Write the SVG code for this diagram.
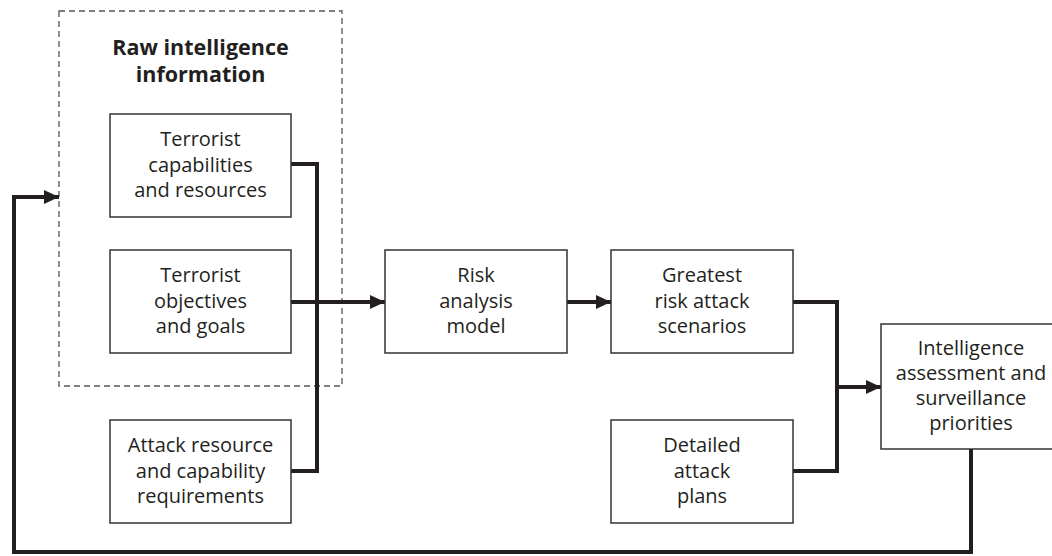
<svg xmlns="http://www.w3.org/2000/svg" width="1052" height="556" viewBox="0 0 1052 556">
<style>
.box{fill:#fff;stroke:#333;stroke-width:1.5}
.grp{fill:none;stroke:#555;stroke-width:1.3;stroke-dasharray:6 4}
text{font-family:"Open Sans","Noto Sans",sans-serif;font-size:20px;fill:#231f20;text-anchor:middle}
.title{font-weight:bold;font-size:21.5px}
.ln{fill:none;stroke:#231f20;stroke-width:4;stroke-linejoin:miter}
</style>
<defs>
<marker id="ah" markerUnits="userSpaceOnUse" markerWidth="16" markerHeight="16" refX="15" refY="8" orient="auto">
<path d="M0,1 L15,8 L0,15 Z" fill="#231f20"/>
</marker>
</defs>
<g id="group-raw">
<rect class="grp" x="59" y="11" width="283" height="375"/>
<text class="title" x="200.5" y="55">Raw intelligence</text>
<text class="title" x="200.5" y="82">information</text>
</g>
<g id="connectors">
<polyline class="ln" points="291,164 317,164 317,471 291,471"/>
<line class="ln" x1="291" y1="302" x2="385" y2="302" marker-end="url(#ah)"/>
<line class="ln" x1="567" y1="302" x2="611" y2="302" marker-end="url(#ah)"/>
<polyline class="ln" points="793,302 837,302 837,471 793,471"/>
<line class="ln" x1="837" y1="387" x2="881" y2="387" marker-end="url(#ah)"/>
<polyline class="ln" points="971,449 971,552 14,552 14,197 59,197" marker-end="url(#ah)"/>
</g>
<g id="n-capabilities">
<rect class="box" x="110" y="114" width="181" height="103"/>
<text x="200.5" y="146">Terrorist</text>
<text x="200.5" y="172">capabilities</text>
<text x="200.5" y="197">and resources</text>
</g>
<g id="n-objectives">
<rect class="box" x="110" y="250" width="181" height="103"/>
<text x="200.5" y="282">Terrorist</text>
<text x="200.5" y="308">objectives</text>
<text x="200.5" y="333">and goals</text>
</g>
<g id="n-attack-req">
<rect class="box" x="110" y="420" width="181" height="103"/>
<text x="200.5" y="452">Attack resource</text>
<text x="200.5" y="478">and capability</text>
<text x="200.5" y="503">requirements</text>
</g>
<g id="n-risk">
<rect class="box" x="385" y="250" width="182" height="103"/>
<text x="476" y="282">Risk</text>
<text x="476" y="308">analysis</text>
<text x="476" y="333">model</text>
</g>
<g id="n-greatest">
<rect class="box" x="611" y="250" width="182" height="103"/>
<text x="702" y="282">Greatest</text>
<text x="702" y="308">risk attack</text>
<text x="702" y="333">scenarios</text>
</g>
<g id="n-detailed">
<rect class="box" x="611" y="420" width="182" height="103"/>
<text x="702" y="452">Detailed</text>
<text x="702" y="478">attack</text>
<text x="702" y="503">plans</text>
</g>
<g id="n-intel">
<rect class="box" x="881" y="324" width="182" height="125"/>
<text x="971" y="355">Intelligence</text>
<text x="971" y="380">assessment and</text>
<text x="971" y="405">surveillance</text>
<text x="971" y="430">priorities</text>
</g>
</svg>
